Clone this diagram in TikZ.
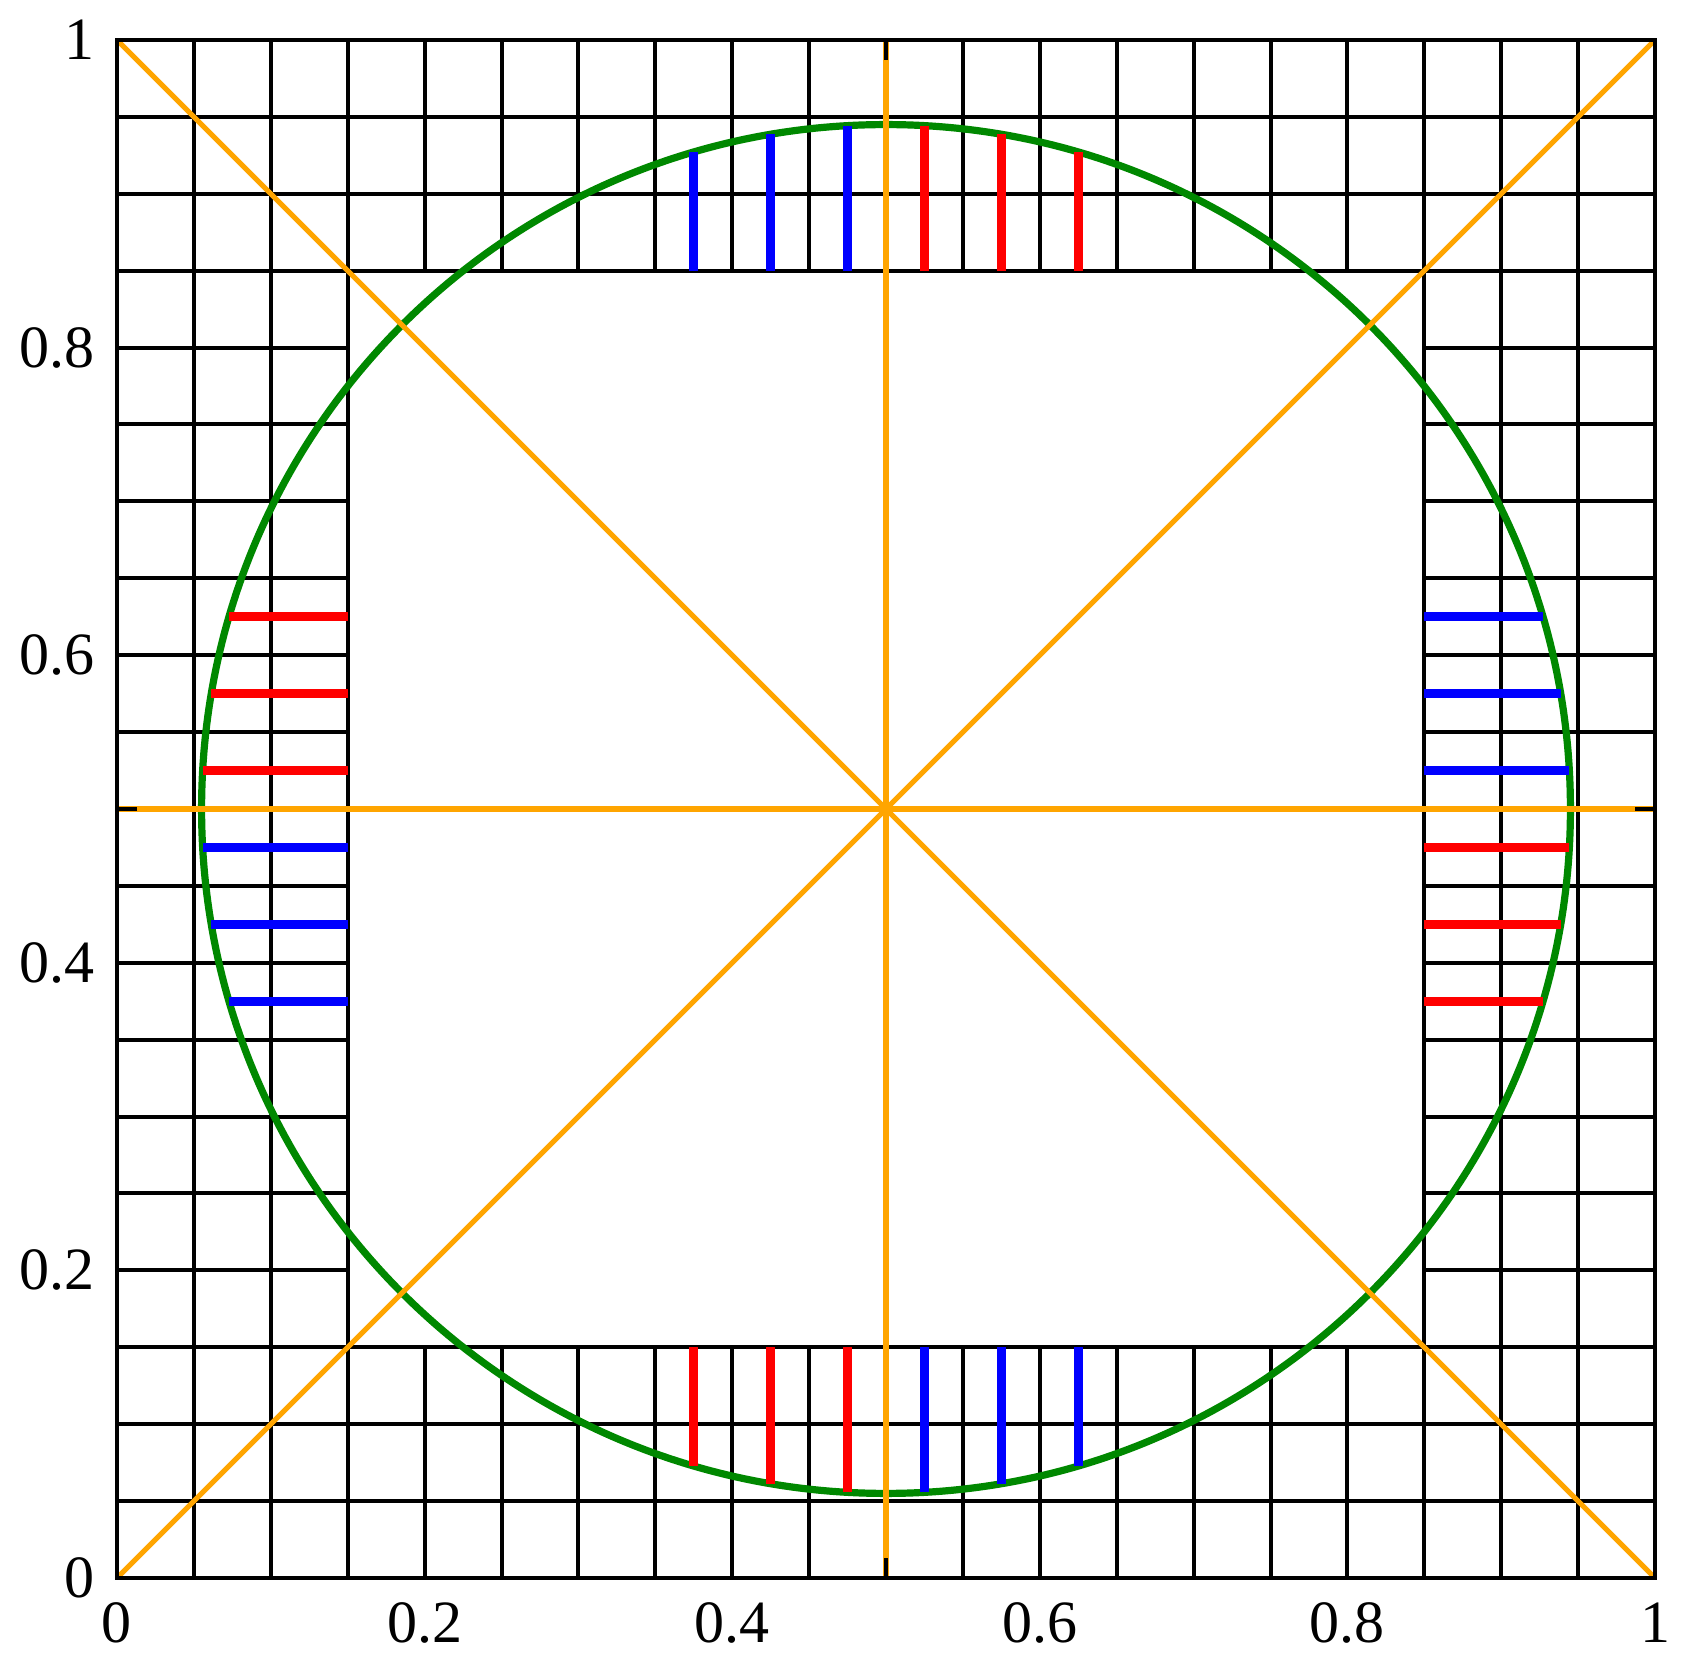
\documentclass[tikz,border=0pt]{standalone}
\usepackage{fontspec}
\setmainfont{Liberation Serif}
\definecolor{myorange}{RGB}{255,165,0}
\definecolor{mygreen}{RGB}{0,136,0}
\begin{document}
\begin{tikzpicture}[x=769pt,y=769pt,
  gridline/.style={line width=2pt,black},
  ringline/.style={line width=3.6pt,mygreen},
  guideline/.style={line width=2.6pt,myorange},
  stickred/.style={line width=4.4pt,red},
  stickblue/.style={line width=4.4pt,blue},
  tickline/.style={line width=2pt,black},
  frameline/.style={line width=2.2pt,black},
  lab/.style={inner sep=0pt,font=\fontsize{30}{36}\selectfont}]
\useasboundingbox (-58.5pt,-47pt) rectangle (784.5pt,789pt);
% grid bands
\foreach \i in {0,...,20}{
  \draw[gridline] (\i*0.05,0.85) -- (\i*0.05,1);
  \draw[gridline] (\i*0.05,0) -- (\i*0.05,0.15);
  \draw[gridline] (0,\i*0.05) -- (0.15,\i*0.05);
  \draw[gridline] (0.85,\i*0.05) -- (1,\i*0.05);
}
\foreach \v in {0.05,0.1,0.15,0.85,0.9,0.95}{
  \draw[gridline] (0,\v) -- (1,\v);
  \draw[gridline] (\v,0) -- (\v,1);
}
% circle
\draw[ringline] (0.5,0.5) circle (0.445);
% guides
\draw[guideline] (0,0) -- (1,1);
\draw[guideline] (0,1) -- (1,0);
\draw[guideline] (0,0.5) -- (1,0.5);
\draw[guideline] (0.5,0) -- (0.5,1);
% sticks top
\draw[stickblue] (0.375,0.85) -- (0.375,0.92708);
\draw[stickblue] (0.425,0.85) -- (0.425,0.93863);
\draw[stickblue] (0.475,0.85) -- (0.475,0.9443);
\draw[stickred] (0.525,0.85) -- (0.525,0.9443);
\draw[stickred] (0.575,0.85) -- (0.575,0.93863);
\draw[stickred] (0.625,0.85) -- (0.625,0.92708);
% sticks bottom
\draw[stickred] (0.375,0.15) -- (0.375,0.07292);
\draw[stickred] (0.425,0.15) -- (0.425,0.06137);
\draw[stickred] (0.475,0.15) -- (0.475,0.0557);
\draw[stickblue] (0.525,0.15) -- (0.525,0.0557);
\draw[stickblue] (0.575,0.15) -- (0.575,0.06137);
\draw[stickblue] (0.625,0.15) -- (0.625,0.07292);
% sticks left
\draw[stickred] (0.15,0.625) -- (0.07292,0.625);
\draw[stickred] (0.15,0.575) -- (0.06137,0.575);
\draw[stickred] (0.15,0.525) -- (0.0557,0.525);
\draw[stickblue] (0.15,0.475) -- (0.0557,0.475);
\draw[stickblue] (0.15,0.425) -- (0.06137,0.425);
\draw[stickblue] (0.15,0.375) -- (0.07292,0.375);
% sticks right
\draw[stickblue] (0.85,0.625) -- (0.92708,0.625);
\draw[stickblue] (0.85,0.575) -- (0.93863,0.575);
\draw[stickblue] (0.85,0.525) -- (0.9443,0.525);
\draw[stickred] (0.85,0.475) -- (0.9443,0.475);
\draw[stickred] (0.85,0.425) -- (0.93863,0.425);
\draw[stickred] (0.85,0.375) -- (0.92708,0.375);
% ticks at the centre lines
\draw[tickline] (0.5,0) -- (0.5,0.013);
\draw[tickline] (0.5,1) -- (0.5,0.987);
\draw[tickline] (0,0.5) -- (0.013,0.5);
\draw[tickline] (1,0.5) -- (0.987,0.5);
% frame
\draw[frameline] (0,0) rectangle (1,1);
% labels
\foreach \v/\s/\n in {0/0/a,0.2/0.2/b,0.4/0.4/c,0.6/0.6/d,0.8/0.8/e,1/1/f}{
  \node[lab,anchor=north] (x\n) at ([yshift=-12pt]\v,0) {\s};
  \node[lab,anchor=east] (y\n) at ([xshift=-11pt]0,\v) {\s};
}
\end{tikzpicture}
\end{document}
